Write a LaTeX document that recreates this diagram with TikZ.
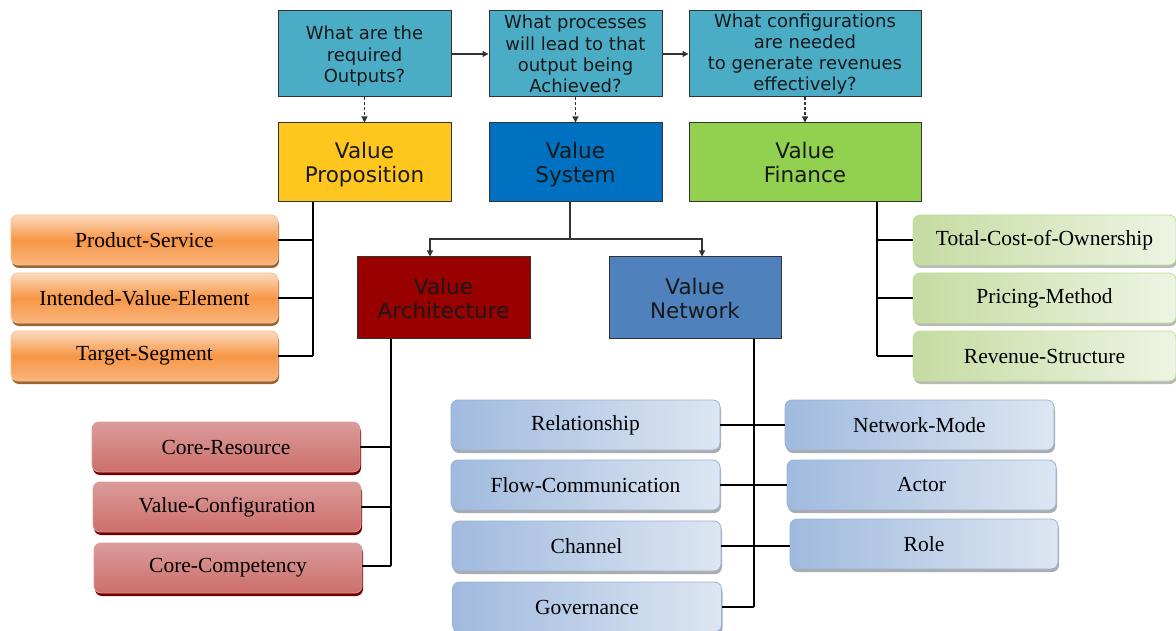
\documentclass[tikz,border=0pt]{standalone}
\usepackage{fontspec}
\setmainfont{Liberation Serif}
\newfontfamily\dvs{DejaVu Sans}
\usetikzlibrary{arrows.meta,shadows}
\definecolor{qcol}{HTML}{4BACC6}
\definecolor{vpcol}{HTML}{FFC71E}
\definecolor{vscol}{HTML}{0070C0}
\definecolor{vfcol}{HTML}{92D050}
\definecolor{vacol}{HTML}{990000}
\definecolor{vncol}{HTML}{4F81BD}
\definecolor{edgecol}{HTML}{333333}
\definecolor{orangebase}{HTML}{F79646}
\definecolor{redtop}{HTML}{DA9C9A}
\definecolor{redmid}{HTML}{C0504D}
\definecolor{redbot}{HTML}{CD6E6B}
\definecolor{blueleft}{HTML}{A0BADE}
\definecolor{blueright}{HTML}{DDE6F2}
\definecolor{greenleft}{HTML}{C5DBA2}
\definecolor{greenright}{HTML}{EEF4E3}
\newcommand{\lowr}[1]{\rule{0pt}{#1}}
\tikzset{
  hdbox/.style={draw=edgecol, line width=1pt, align=center, font=\dvs\fontsize{21.5}{24}\selectfont, text=black!90, inner sep=2pt},
  qbox/.style={hdbox, fill=qcol, font=\dvs\fontsize{18}{21.3}\selectfont, minimum width=173pt, minimum height=86pt},
  leaf/.style={rounded corners=7pt, line width=0.8pt, font=\fontsize{21.5}{24}\selectfont, minimum height=50pt, inner sep=0pt},
  oleaf/.style={leaf, draw=orangebase!60, top color=orangebase!35!white, bottom color=orangebase!70!white, middle color=orangebase,
    drop shadow={shadow xshift=1pt, shadow yshift=-3pt, fill=brown!80!black, opacity=1}},
  rleaf/.style={leaf, draw=redtop, top color=redtop, middle color=redmid, bottom color=redbot,
    drop shadow={shadow xshift=1pt, shadow yshift=-3pt, fill=red!45!black, opacity=1}},
  bleaf/.style={leaf, draw=vncol!60!white, left color=blueleft, right color=blueright,
    drop shadow={shadow xshift=1pt, shadow yshift=-3pt, fill=gray!65, opacity=1}},
  gleaf/.style={leaf, draw=vfcol!60!white, left color=greenleft, right color=greenright,
    drop shadow={shadow xshift=1pt, shadow yshift=-3pt, fill=gray!55, opacity=1}},
  conn/.style={line width=1.2pt, black},
  arr/.style={line width=1.2pt, edgecol, -{Triangle[length=6pt,width=6pt]}},
  darr/.style={line width=1.1pt, edgecol, dash pattern=on 3pt off 2pt, -{Triangle[length=6pt,width=6pt]}}
}
\begin{document}
\begin{tikzpicture}[x=1pt,y=-1pt]
\useasboundingbox[fill=white] (0,0) rectangle (1176,631);
% question boxes
\node[qbox] (q1) at (364.5,54) {\lowr{18pt}What are the\\required\\Outputs?};
\node[qbox] (q2) at (575.5,54) {What processes\\will lead to that\\output being\\Achieved?};
\node[qbox, minimum width=232pt] (q3) at (805,54) {What configurations\\are needed\\to generate revenues\\effectively?};
\draw[arr] (q1.east) -- (q2.west);
\draw[arr] (q2.east) -- (q3.west);
% value boxes
\node[hdbox, fill=vpcol, minimum width=173pt, minimum height=79pt] (vp) at (364.5,162.5) {\lowr{20pt}Value\\Proposition};
\node[hdbox, fill=vscol, minimum width=173pt, minimum height=79pt] (vs) at (575.5,162.5) {\lowr{20pt}Value\\System};
\node[hdbox, fill=vfcol, minimum width=232pt, minimum height=79pt] (vf) at (805,162.5) {\lowr{20pt}Value\\Finance\vphantom{p}};
\draw[darr] (q1.south) -- (vp.north);
\draw[darr] (q2.south) -- (vs.north);
\draw[darr] (q3.south) -- (vf.north);
\node[hdbox, fill=vacol, minimum width=173pt, minimum height=81pt] (va) at (443.5,297.5) {\lowr{22.5pt}Value\\Architecture\vphantom{p}};
\node[hdbox, fill=vncol, minimum width=172pt, minimum height=81pt] (vn) at (695,297.5) {\lowr{22.5pt}Value\\Network\vphantom{p}};
\coordinate (vsj) at (570,239);
\coordinate (vaa) at (430,239);
\coordinate (vna) at (702,239);
\draw[conn, edgecol] (vs.south -| vsj) -- (vsj);
\draw[arr] (vsj) -- (vaa) -- (va.north -| vaa);
\draw[arr] (vsj) -- (vna) -- (vn.north -| vna);
% proposition leaves
\node[oleaf, minimum width=267pt] (ps) at (144.5,240) {Product-Service};
\node[oleaf, minimum width=267pt] (ive) at (144.5,298) {Intended-Value-Element};
\node[oleaf, minimum width=267pt] (ts) at (144.5,356) {Target-Segment};
\coordinate (vpj) at (313,356);
\draw[conn] (vp.south -| vpj) -- (vpj);
\draw[conn] (ps.east) -- (ps.east -| vpj);
\draw[conn] (ive.east) -- (ive.east -| vpj);
\draw[conn] (ts.east) -- (vpj);
% finance leaves
\node[gleaf, minimum width=263pt] (tco) at (1044.5,240) {Total-Cost-of-Ownership};
\node[gleaf, minimum width=263pt] (pm) at (1044.5,298) {Pricing-Method};
\node[gleaf, minimum width=263pt] (rs) at (1044.5,356) {Revenue-Structure};
\coordinate (vfj) at (877,356);
\draw[conn] (vf.south -| vfj) -- (vfj);
\draw[conn] (tco.west) -- (tco.west -| vfj);
\draw[conn] (pm.west) -- (pm.west -| vfj);
\draw[conn] (rs.west) -- (vfj);
% architecture leaves
\node[rleaf, minimum width=268pt] (cr) at (226,447) {Core-Resource};
\node[rleaf, minimum width=268pt] (vc) at (227,507) {Value-Configuration};
\node[rleaf, minimum width=268pt] (cc) at (228,568) {Core-Competency};
\coordinate (vaj) at (391,566);
\draw[conn] (va.south -| vaj) -- (vaj);
\draw[conn] (cr.east) -- (cr.east -| vaj);
\draw[conn] (vc.east) -- (vc.east -| vaj);
\draw[conn] (cc.east |- vaj) -- (vaj);
% network leaves
\node[bleaf, minimum width=269pt] (rel) at (585.5,425) {Relationship};
\node[bleaf, minimum width=269pt] (fc) at (585.5,485) {Flow-Communication};
\node[bleaf, minimum width=269pt] (ch) at (586.5,546) {Channel};
\node[bleaf, minimum width=269pt] (gov) at (587,607) {Governance};
\node[bleaf, minimum width=269pt] (nm) at (919.5,425) {Network-Mode};
\node[bleaf, minimum width=269pt] (act) at (921.5,485) {Actor};
\node[bleaf, minimum width=268pt] (role) at (924,544) {Role};
\coordinate (vnj) at (754,607);
\draw[conn] (vn.south -| vnj) -- (vnj);
\draw[conn] (rel.east) -- (nm.west);
\draw[conn] (fc.east) -- (act.west);
\draw[conn] (ch.east) -- (ch.east -| role.west);
\draw[conn] (gov.east) -- (vnj);
\end{tikzpicture}
\end{document}
